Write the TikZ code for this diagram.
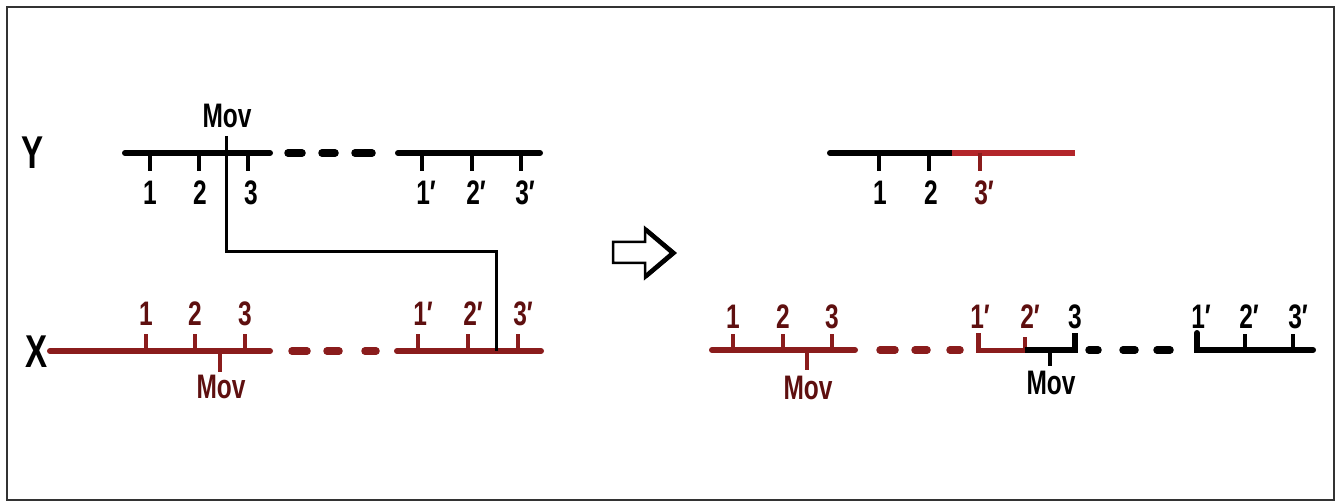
\documentclass[tikz,border=0pt]{standalone}
\usepackage{fontspec}
\setmainfont{Liberation Sans}[FakeStretch=0.72,UprightFont=* Bold]
\definecolor{chrred}{HTML}{8A1C1C}
\definecolor{lblred}{HTML}{5E0F0F}
\definecolor{brightred}{HTML}{B3262A}
\newcommand{\pr}{\char"2032}
\begin{document}
\begin{tikzpicture}[x=1pt,y=-1pt,
  chrom/.style={line width=6pt,line cap=round},
  dashpiece/.style={line width=7.5pt,line cap=round},
  tickmark/.style={line width=3.2pt},
  link/.style={line width=3pt},
  lbl/.style={font=\fontsize{34}{34}\selectfont,inner sep=0pt},
  big/.style={font=\fontsize{46}{46}\selectfont,inner sep=0pt}]
\useasboundingbox (0,0) rectangle (1340,502);
\draw[line width=2.5pt,black!80] (7,7) rectangle (1334,500);

% ---------- left: chromosome Y ----------
\node[big] (ylab) at (33,153) {Y};
\draw[chrom] (125,153) -- (270,153);
\foreach \a/\b in {288/302,322/335,355/372} \draw[dashpiece] (\a,153) -- (\b,153);
\draw[chrom] (398,153) -- (540,153);
\foreach \x in {150,199,248,422,472,521} \draw[tickmark] (\x,153) -- (\x,171);
\node[lbl] (y1) at (150,193) {1};
\node[lbl] (y2) at (200,193) {2};
\node[lbl] (y3) at (251,193) {3};
\node[lbl] (y1p) at (426,193) {1\pr};
\node[lbl] (y2p) at (476,193) {2\pr};
\node[lbl] (y3p) at (525,193) {3\pr};
\node[lbl] (ymov) at (227,116) {Mov};

% ---------- left: chromosome X ----------
\node[big] (xlab) at (37,352) {X};
\begin{scope}[chrred]
\draw[chrom] (50,351) -- (270,351);
\foreach \a/\b in {292/307,327/339,365/376} \draw[dashpiece] (\a,351) -- (\b,351);
\draw[chrom] (397,351) -- (541,351);
\foreach \x in {146,195,245,418,468,518} \draw[tickmark] (\x,351) -- (\x,334);
\draw[tickmark] (220,351) -- (220,372);
\end{scope}
\begin{scope}[lblred]
\node[lbl] (x1) at (146,314) {1};
\node[lbl] (x2) at (195,314) {2};
\node[lbl] (x3) at (245,314) {3};
\node[lbl] (x1p) at (423,314) {1\pr};
\node[lbl] (x2p) at (473,314) {2\pr};
\node[lbl] (x3p) at (523,314) {3\pr};
\node[lbl] (xmov) at (221,387) {Mov};
\end{scope}

% pairing line between the two Mov sites
\coordinate (movtop) at (226,136);
\coordinate (xjoin) at (496,351);
\draw[link] (movtop) |- (496,252) -- (xjoin);

% ---------- block arrow ----------
\draw[line width=2.5pt,line join=miter]
  (613,242) -- (645,242) -- (645,228) -- (675,253) -- (645,278) -- (645,263) -- (613,263) -- cycle;
\draw[line width=4.5pt,line join=miter] (646,230) -- (673,253) -- (646,276);

% ---------- right: recombinant Y ----------
\draw[chrom] (830,153) -- (952,153);
\draw[chrom,brightred,line cap=butt] (952,153) -- (1075,153);
\foreach \x in {879,929} \draw[tickmark] (\x,153) -- (\x,171);
\draw[tickmark,chrred] (980,153) -- (980,171);
\node[lbl] (r1) at (880,193) {1};
\node[lbl] (r2) at (931,193) {2};
\node[lbl,lblred] (r3p) at (984,193) {3\pr};

% ---------- right: recombinant X ----------
\begin{scope}[chrred]
\draw[chrom] (712,350) -- (855,350);
\foreach \x in {733,783,832} \draw[tickmark] (\x,350) -- (\x,334);
\draw[tickmark] (807,350) -- (807,370);
\foreach \a/\b in {880/895,915/927,950/960} \draw[dashpiece] (\a,350) -- (\b,350);
\draw[line width=5pt,line cap=butt,line join=miter] (978,333) -- (978,350) -- (1025,350);
\draw[tickmark] (1025,350) -- (1025,337);
\end{scope}
\draw[chrom,line cap=butt,line join=miter] (1025,350) -- (1075,350) -- (1075,333);
\draw[tickmark] (1050,350) -- (1050,366);
\foreach \a/\b in {1089/1098,1123/1135,1157/1170} \draw[dashpiece] (\a,350) -- (\b,350);
\draw[chrom,line join=miter] (1197,333) -- (1197,350) -- (1313,350);
\foreach \x in {1245,1293} \draw[tickmark] (\x,350) -- (\x,334);
\begin{scope}[lblred]
\node[lbl] (s1) at (733,317) {1};
\node[lbl] (s2) at (783,317) {2};
\node[lbl] (s3) at (832,317) {3};
\node[lbl] (smov) at (808,388) {Mov};
\node[lbl] (s1p) at (980,317) {1\pr};
\node[lbl] (s2p) at (1030,317) {2\pr};
\end{scope}
\node[lbl] (u3) at (1075,317) {3};
\node[lbl] (umov) at (1051,383) {Mov};
\node[lbl] (t1p) at (1201,317) {1\pr};
\node[lbl] (t2p) at (1249,317) {2\pr};
\node[lbl] (t3p) at (1298,317) {3\pr};
\end{tikzpicture}
\end{document}
